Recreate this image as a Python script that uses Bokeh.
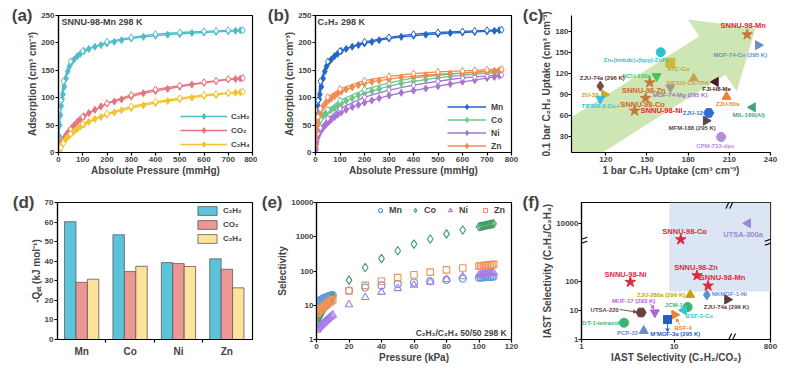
import math
from bokeh.plotting import figure
from bokeh.layouts import row, column
from bokeh.models import (Range1d, FixedTicker, Legend, LegendItem, Label, LinearScale,
                          LinearAxis, Arrow, VeeHead)
from bokeh.core.properties import value
from bokeh.embed import file_html
from bokeh.resources import INLINE

FONT = "Liberation Sans"

# ---------------- data (a) SNNU-98-Mn isotherms ----------------
A_P_ADS = [0.5, 1.5, 3, 5, 8, 11, 15, 18, 24, 31, 38, 45, 55, 65, 78, 90, 105, 125, 150, 175,
           200, 230, 260, 300, 350, 400, 450, 500, 550, 600, 650, 700, 730, 750]
A_P_DES = [760, 700, 650, 600, 500, 400, 300, 200, 100, 50, 20, 10]
A_C2H2_ADS = [5, 15, 30, 50, 68, 85, 97, 106, 120, 135, 148, 157, 165, 170, 176, 180, 185, 189, 193, 196,
              199, 202, 205, 208, 211, 213, 215, 216, 218, 219, 220, 221, 222, 223]
A_CO2_ADS = [1, 3, 6, 9, 13, 16, 20, 23, 27, 32, 36, 40, 45, 50, 56, 61, 66, 72, 78, 84,
             89, 93, 97, 102, 108, 112, 116, 120, 124, 127, 130, 133, 134, 135]
A_C2H4_ADS = [1, 2, 4, 6, 9, 12, 15, 17, 21, 25, 28, 31, 35, 39, 43, 47, 51, 56, 61, 65,
              69, 73, 77, 81, 86, 90, 94, 97, 100, 103, 105, 108, 109, 110]
A_C2H2_DES = [223, 223, 222, 221, 219, 216, 210, 202, 185, 166, 130, 95]
A_CO2_DES = [136, 134, 131, 128, 122, 115, 105, 90, 65, 42, 22, 12]
A_C2H4_DES = [111, 109, 107, 105, 99, 93, 84, 71, 52, 34, 17, 9]
A_GASES = ["C₂H₂", "CO₂", "C₂H₄"]
A_XTICKS = [0, 100, 200, 300, 400, 500, 600, 700, 800]
A_YTICKS = [0, 50, 100, 150, 200, 250]

# ---------------- data (b) C2H2 isotherms of the four metals ----------------
B_METALS = ["Mn", "Co", "Ni", "Zn"]
B_MN_ADS = [5, 15, 30, 50, 68, 85, 97, 106, 120, 135, 148, 157, 165, 170, 176, 180, 185, 189, 193, 196,
            199, 202, 205, 208, 211, 213, 215, 216, 218, 219, 220, 221, 222, 223]
B_CO_ADS = [8, 18, 28, 36, 44, 50, 55, 58, 63, 67, 70, 73, 76, 78, 81, 85, 89, 94, 99, 104,
            108, 112, 116, 121, 126, 130, 133, 136, 139, 141, 143, 145, 146, 147]
B_NI_ADS = [4, 9, 15, 20, 26, 30, 34, 37, 41, 45, 49, 52, 56, 60, 65, 69, 73, 78, 83, 87,
            91, 95, 99, 104, 109, 113, 117, 121, 125, 129, 132, 136, 138, 140]
B_ZN_ADS = [12, 25, 38, 48, 57, 63, 69, 73, 79, 84, 88, 92, 96, 99, 103, 107, 111, 115, 119, 123,
            126, 129, 131, 134, 137, 139, 141, 143, 144, 145, 146, 148, 149, 150]
B_MN_DES = [224, 223, 222, 221, 219, 216, 210, 202, 185, 166, 130, 95]
B_CO_DES = [150, 148, 147, 145, 141, 136, 127, 115, 95, 78, 60, 48]
B_NI_DES = [142, 140, 138, 136, 130, 123, 114, 101, 80, 62, 45, 35]
B_ZN_DES = [152, 151, 150, 149, 147, 144, 139, 131, 116, 101, 80, 65]

# ---------------- data (c) uptake comparison ----------------
C_NAMES = ["SNNU-98-Mn", "MOF-74-Co (295 K)", "Zn₂(tmbdc)₂(bpy)-ZnF₂", "ATC-Cu", "NCU-100a",
           "SIFSIX-Cu-TPA", "FJI-H8-Me", "ZJU-74a (296 K)", "SNNU-98-Zn", "MOF-74-Mg (295 K)",
           "ZU-33", "TIFSIX-2-Cu-i", "ZJU-50a", "SNNU-98-Co", "SNNU-98-Ni", "ZJU-12",
           "MIL-160(Al)", "MFM-188 (295 K)", "CPM-733-dps"]
C_UPTAKE_1BAR = [223, 231, 160, 167, 157, 184, 200, 116, 152, 167, 119, 116, 208, 149, 141, 195, 227, 193, 204]
C_UPTAKE_01BAR = [175, 160, 150, 135, 116, 113, 108, 102, 107, 100, 90, 84, 87, 85, 67, 64, 72, 53, 30]
C_XTICKS = [120, 150, 180, 210, 240]
C_YTICKS = [30, 60, 90, 120, 150, 180]

# ---------------- data (d) Qst ----------------
D_METALS = ["Mn", "Co", "Ni", "Zn"]
D_C2H2 = [60.2, 53.5, 39.3, 41.2]
D_CO2 = [29.2, 34.7, 38.8, 35.9]
D_C2H4 = [30.8, 37.4, 37.3, 26.4]
D_YTICKS = [0, 10, 20, 30, 40, 50, 60, 70]

# ---------------- data (e) IAST selectivity vs pressure ----------------
E_P = [0.3, 0.8, 1.3, 1.9, 2.5, 3.1, 3.8, 4.5, 5.2, 6.0, 6.8, 7.6, 8.4, 9.2, 10.0,
       20, 30, 40, 50, 60, 70, 80, 90,
       100, 101, 102, 103, 104, 105, 106, 107, 108, 109]
E_MN = [12.0, 12.6, 13.1, 13.7, 14.2, 14.7, 15.3, 15.9, 16.4, 17.0, 17.6, 18.2, 18.8, 19.4, 20.0,
        27, 33, 38, 42, 46, 50, 55, 60,
        64, 64.5, 65, 65.5, 66, 66.5, 67, 67.5, 68, 68.5]
E_CO = [3.2, 3.6, 4.1, 4.7, 5.3, 6.0, 6.8, 7.7, 8.6, 9.7, 11.0, 12.4, 14.0, 15.8, 17.5,
        54, 126, 230, 390, 610, 860, 1210, 1580,
        1950, 2000, 2050, 2100, 2150, 2200, 2250, 2300, 2350, 2400]
E_NI = [1.9, 2.05, 2.2, 2.35, 2.5, 2.7, 2.9, 3.1, 3.35, 3.6, 3.9, 4.2, 4.5, 4.85, 5.2,
        10.5, 17, 24, 31, 39, 48, 57, 69,
        76, 77.5, 79, 80.5, 82, 83.5, 85, 86.5, 88, 90]
E_ZN = [5.8, 6.2, 6.6, 7.0, 7.5, 8.0, 8.5, 9.1, 9.7, 10.4, 11.1, 11.9, 12.7, 13.6, 14.6,
        26, 38, 50, 64, 78, 93, 108, 122,
        138, 140, 142, 144, 146, 148, 150, 152, 154, 156]
E_XTICKS = [0, 20, 40, 60, 80, 100, 120]
E_YTICKS = [1, 10, 100, 1000, 10000]

# ---------------- data (f) IAST selectivity comparison ----------------
F_NAMES = ["UTSA-300a", "SNNU-98-Co", "SNNU-98-Zn", "SNNU-98-Mn", "SNNU-98-Ni", "NKMOF-1-Ni",
           "ZJU-280a (296 K)", "ZJU-74a (296 K)", "MUF-17 (293 K)", "UTSA-220", "JCM-1",
           "BSF-3-Co", "BSF-4", "M'MOF-3a (295 K)", "ZrT-1-tetrazol", "PCP-33"]
F_SEL_CO2 = [743, 11.8, 17.7, 23.3, 3.37, 22.6, 14.9, 37.6, 6.2, 4.4, 14.0, 12.7, 10.1, 8.5, 2.88, 4.7]
F_SEL_C2H4 = [10500, 2870, 163, 72, 97, 35, 35, 24, 8.6, 8.6, 13.3, 10.3, 7.2, 4.9, 3.8, 2.0]
F_XTICKS = [1, 10]
F_XTICK_END = "800"
F_YTICKS = [1, 10, 100, 10000]

# ---------------- helpers ----------------
def mkfig(w, h, l, r, t, b, **kw):
    p = figure(width=w, height=h, output_backend="svg", toolbar_location=None,
               min_border_left=l, min_border_right=r, min_border_top=t, min_border_bottom=b, **kw)
    p.xgrid.visible = False
    p.ygrid.visible = False
    p.outline_line_color = "black"
    p.outline_line_width = 1.2
    p.background_fill_color = "white"
    p.border_fill_color = "white"
    for ax in p.axis:
        ax.axis_line_width = 1.2
        ax.major_tick_line_width = 1.2
        ax.major_tick_out = 3
        ax.major_tick_in = 0
        ax.minor_tick_line_color = None
        ax.major_label_text_font = FONT
        ax.major_label_text_font_style = "bold"
        ax.major_label_text_font_size = "8px"
        ax.axis_label_text_font = FONT
        ax.axis_label_text_font_style = "bold"
        ax.axis_label_text_font_size = "10px"
        ax.major_label_standoff = 1
        ax.axis_label_standoff = 0
    return p


def panel_letter(p, text, ytop, shift):
    # panel letter drawn as the only tick label of an extra, line-less left axis
    ax = LinearAxis(ticker=FixedTicker(ticks=[ytop]), major_label_overrides={ytop: text})
    ax.axis_line_color = None
    ax.major_tick_line_color = None
    ax.minor_tick_line_color = None
    ax.major_tick_out = 0
    ax.major_tick_in = 0
    ax.minor_tick_out = 0
    ax.major_label_standoff = -shift
    ax.major_label_text_font = FONT
    ax.major_label_text_font_style = "bold"
    ax.major_label_text_font_size = "17px"
    p.add_layout(ax, "left")


def style_legend(leg, size="8px"):
    leg.label_text_font = FONT
    leg.label_text_font_style = "bold"
    leg.label_text_font_size = size
    leg.border_line_color = None
    leg.background_fill_alpha = 0
    leg.padding = 0
    leg.spacing = 0
    leg.margin = 0


def ticks(ax, tk, labels=None):
    ax.ticker = FixedTicker(ticks=tk)
    if labels is not None:
        ax.major_label_overrides = {t: s for t, s in zip(tk, labels)}

# ============ (a) ============
WA, HA, LA, RA, TA, BA = 257, 182, 58, 5, 15, 30
pa = mkfig(WA, HA, LA, RA, TA, BA, x_range=(0, 800), y_range=(0, 250))
ticks(pa.xaxis[0], A_XTICKS)
ticks(pa.yaxis[0], A_YTICKS)
pa.xaxis.axis_label = "Absolute Pressure (mmHg)"
pa.yaxis.axis_label = "Adsorption (cm³ cm⁻³)"
A_COLORS = ["#52bccb", "#e9737c", "#f4c331"]
items = []
for name, col, ads, des in zip(A_GASES, A_COLORS, [A_C2H2_ADS, A_CO2_ADS, A_C2H4_ADS],
                               [A_C2H2_DES, A_CO2_DES, A_C2H4_DES]):
    l1 = pa.line(A_P_ADS, ads, line_color=col, line_width=1.3)
    s1 = pa.scatter(A_P_ADS, ads, marker="diamond", size=7, fill_color=col, line_color=col)
    pa.line(A_P_DES, des, line_color=col, line_width=1.3)
    pa.scatter(A_P_DES, des, marker="diamond", size=7, fill_color="white", line_color=col)
    items.append(LegendItem(label=name, renderers=[l1, s1]))
leg = Legend(items=items, location="bottom_right")
style_legend(leg)
leg.margin = 1
leg.glyph_width = 47
leg.glyph_height = 14
leg.label_height = 14
leg.label_standoff = 4
pa.add_layout(leg)
pa.add_layout(Label(x=12, y=238, text="SNNU-98-Mn  298 K", text_font=FONT, text_font_style="bold",
                    text_font_size="9px", text_baseline="middle"))
panel_letter(pa, "(a)", 249.5, 8)

# ============ (b) ============
WB, HB, LB, RB, TB, BB = 262, 182, 58, 8, 14, 29
pb = mkfig(WB, HB, LB, RB, TB, BB, x_range=(0, 800), y_range=(0, 250))
ticks(pb.xaxis[0], A_XTICKS)
ticks(pb.yaxis[0], A_YTICKS)
pb.xaxis.axis_label = "Absolute Pressure (mmHg)"
pb.yaxis.axis_label = "Adsorption (cm³ cm⁻³)"
B_COLORS = ["#2566c8", "#6cc68c", "#a874d6", "#f38a4f"]
items = []
for name, col, ads, des in zip(B_METALS, B_COLORS, [B_MN_ADS, B_CO_ADS, B_NI_ADS, B_ZN_ADS],
                               [B_MN_DES, B_CO_DES, B_NI_DES, B_ZN_DES]):
    l1 = pb.line(A_P_ADS, ads, line_color=col, line_width=1.3)
    s1 = pb.scatter(A_P_ADS, ads, marker="diamond", size=7, fill_color=col, line_color=col)
    pb.line(A_P_DES, des, line_color=col, line_width=1.3)
    pb.scatter(A_P_DES, des, marker="diamond", size=7, fill_color="white", line_color=col)
    items.append(LegendItem(label=name, renderers=[l1, s1]))
leg = Legend(items=items, location="bottom_right")
style_legend(leg, "8.5px")
leg.glyph_width = 39
leg.glyph_height = 13
leg.label_height = 13
leg.label_standoff = 5
pb.add_layout(leg)
pb.add_layout(Label(x=8, y=238, text="C₂H₂ 298 K", text_font=FONT, text_font_style="bold",
                    text_font_size="9px", text_baseline="middle"))
panel_letter(pb, "(b)", 249.5, 8)

# ============ (c) ============
WC, HC, LC, RC, TC, BC = 265, 182, 50, 14, 12, 27
CX0, CX1, CY0, CY1 = 95, 240, 8, 202
pc = mkfig(WC, HC, LC, RC, TC, BC, x_range=(CX0, CX1), y_range=(CY0, CY1))
pc.outline_line_color = None
ticks(pc.xaxis[0], C_XTICKS)
ticks(pc.yaxis[0], C_YTICKS)
pc.yaxis[0].major_label_standoff = 0
pc.xaxis.axis_label = "1 bar C₂H₂ Uptake (cm³ cm⁻³)"
pc.yaxis.axis_label = "0.1 bar C₂H₂ Uptake (cm³ cm⁻³)"
FWC, FHC = WC - LC - RC, HC - TC - BC
KX, KY = FWC / (CX1 - CX0), FHC / (CY1 - CY0)

# decorative arrow (pixel geometry)
ARROW_TAIL, ARROW_TIP = (82, 3), (229, 184)
SHAFT, HEAD_W, HEAD_L = 24, 45, 52
X0, Y0 = ARROW_TAIL[0] * KX, ARROW_TAIL[1] * KY
X1, Y1 = ARROW_TIP[0] * KX, ARROW_TIP[1] * KY
L = math.hypot(X1 - X0, Y1 - Y0)
ux, uy = (X1 - X0) / L, (Y1 - Y0) / L
nx, ny = -uy, ux
bx, by = X1 - ux * HEAD_L, Y1 - uy * HEAD_L
pts = [(X0 + nx * SHAFT, Y0 + ny * SHAFT), (bx + nx * SHAFT, by + ny * SHAFT),
       (bx + nx * HEAD_W, by + ny * HEAD_W), (X1, Y1), (bx - nx * HEAD_W, by - ny * HEAD_W),
       (bx - nx * SHAFT, by - ny * SHAFT), (X0 - nx * SHAFT, Y0 - ny * SHAFT)]
pc.patch([q[0] / KX for q in pts], [q[1] / KY for q in pts], fill_color="#c4e2a6",
         fill_alpha=0.85, line_color=None)

HP = math.pi / 2
C_MARKERS = ["star", "triangle", "circle", "square", "inverted_triangle", "triangle", "triangle",
             "diamond", "star", "inverted_triangle", "triangle", "inverted_triangle", "triangle",
             "star", "star", "hex", "triangle", "triangle", "circle"]
C_ANGLES = [0, -HP, 0, 0, 0, 0, HP, 0, 0, 0, -HP, 0, 0, 0, 0, 0, HP, -HP, 0]
C_COLORS = ["#c7773a", "#6a8fc8", "#2cc3cf", "#c9bb3f", "#46bf62", "#c9a052", "#4a1c1c",
            "#7b4a42", "#c7773a", "#9a9a9a", "#d4a520", "#2fc0e8", "#f07e30", "#c7773a",
            "#c7773a", "#2f6fd8", "#3aa87a", "#5a4848", "#b58ce0"]
C_LCOLORS = ["#e3262e", "#6a8fc8", "#2cc3cf", "#b5a52e", "#46bf62", "#c9a052", "#4a1c1c",
             "#5b3530", "#d0642a", "#9a70c0", "#c99a10", "#2fc0e8", "#f07e30", "#d0642a",
             "#e3262e", "#2f6fd8", "#3aa87a", "#5a4848", "#b58ce0"]
C_SIZES = [11, 9, 9, 9, 9, 9, 9, 10, 11, 9, 9, 9, 9, 11, 11, 10, 9, 9, 9]
C_LOFF = [(-4, -9, "center"), (-18, 10, "center"), (-25, 8, "center"), (8, 6, "center"),
          (-6, 0, "right"), (-6, 5, "center"), (1, 7, "center"), (2, -8, "center"),
          (-6, 8, "center"), (10, 8, "center"), (-6, 0, "right"), (0, 8, "center"),
          (1, 8, "center"), (-3, 7, "center"), (6, 0, "left"), (-6, 0, "right"),
          (-4, 8, "center"), (-14, 8, "center"), (-6, 9, "center")]
for i, nm in enumerate(C_NAMES):
    pc.scatter([C_UPTAKE_1BAR[i]], [C_UPTAKE_01BAR[i]], marker=C_MARKERS[i], angle=C_ANGLES[i],
               size=C_SIZES[i], fill_color=C_COLORS[i], line_color=C_COLORS[i])
for i, nm in enumerate(C_NAMES):
    dx, dy, al = C_LOFF[i]
    big = nm.startswith("SNNU")
    pc.text([C_UPTAKE_1BAR[i] + dx / KX], [C_UPTAKE_01BAR[i] - dy / KY], text=[nm],
            text_font=value(FONT), text_font_style="bold",
            text_font_size=value("7.5px" if big else "6px"), text_color=C_LCOLORS[i],
            text_align=al, text_baseline="middle")
panel_letter(pc, "(c)", 201.5, 5)

# ============ (d) ============
WD, HD, LD, RD, TD, BD = 257, 185, 57, 5, 20, 28
pd = mkfig(WD, HD, LD, RD, TD, BD, x_range=(0, 4.03), y_range=(0, 70))
centers = [i + 0.5 for i in range(len(D_METALS))]
pd.xaxis[0].ticker = FixedTicker(ticks=centers, minor_ticks=[1, 2, 3])
pd.xaxis[0].major_label_overrides = {c: m for c, m in zip(centers, D_METALS)}
pd.xaxis[0].major_tick_line_color = None
pd.xaxis[0].minor_tick_line_color = "black"
pd.xaxis[0].minor_tick_line_width = 1.2
pd.xaxis[0].minor_tick_out = 3
pd.xaxis[0].minor_tick_in = 0
pd.xaxis[0].major_label_text_font_size = "10px"
pd.xaxis[0].major_label_standoff = 3
ticks(pd.yaxis[0], D_YTICKS)
pd.yaxis.axis_label = "-Qₛₜ (kJ mol⁻¹)"
BW = 0.236
D_COLORS = ["#5cc4da", "#ec9794", "#fde29a"]
items = []
for k, (name, col, vals) in enumerate(zip(A_GASES, D_COLORS, [D_C2H2, D_CO2, D_C2H4])):
    r = pd.vbar(x=[c + (k - 1) * BW for c in centers], top=vals, width=BW, bottom=0,
                fill_color=col, line_color="#5a5a5a", line_width=0.8)
    items.append(LegendItem(label=name, renderers=[r]))
FHD = HD - TD - BD
leg = Legend(items=items, location=(138, FHD - 42))
style_legend(leg)
leg.glyph_width = 24
leg.glyph_height = 11
leg.label_height = 12
leg.spacing = 2
leg.label_standoff = 4
pd.add_layout(leg)
panel_letter(pd, "(d)", 69.8, 7)

# ============ (e) ============
WE, HE, LE, RE, TE, BE = 262, 185, 59, 8, 20, 28
pe = mkfig(WE, HE, LE, RE, TE, BE, x_range=(0, 120), y_range=(1, 10000), y_axis_type="log")
ticks(pe.xaxis[0], E_XTICKS)
ticks(pe.yaxis[0], E_YTICKS, [str(t) for t in E_YTICKS])
pe.yaxis[0].major_label_standoff = 0
pe.xaxis.axis_label = "Pressure (kPa)"
pe.yaxis.axis_label = "Selectivity"
E_COLORS = ["#5c9cd6", "#3d9c5f", "#a77be8", "#f0925a"]
E_MARK = ["circle", "diamond", "triangle", "square"]
E_SIZE = [7, 8.5, 7.5, 6.5]
items = []
for name, col, mk, sz, vals in zip(B_METALS, E_COLORS, E_MARK, E_SIZE, [E_MN, E_CO, E_NI, E_ZN]):
    r = pe.scatter(E_P, vals, marker=mk, size=sz, fill_color=None, line_color=col, line_width=1.1)
    items.append(LegendItem(label=name, renderers=[r]))
FHE = HE - TE - BE
leg = Legend(items=items, location=(59, FHE - 14), orientation="horizontal")
style_legend(leg, "9px")
leg.glyph_width = 10
leg.glyph_height = 12
leg.label_height = 12
leg.label_width = 13
leg.label_standoff = 4
leg.spacing = 8
pe.add_layout(leg)
pe.add_layout(Label(x=117, y=1.55, text="C₂H₂/C₂H₄ 50/50 298 K", text_font=FONT,
                    text_font_style="bold", text_font_size="8.5px", text_align="right",
                    text_baseline="middle"))
panel_letter(pe, "(e)", 9980, 8)

# ============ (f) ============
WF, HF, LF, RF, TF, BF = 265, 185, 55, 14, 19, 28
FX1, FY1 = 110, 55000
BRK0, BRK1 = 324, 800
pf = mkfig(WF, HF, LF, RF, TF, BF, x_axis_type="log", y_axis_type="log",
           x_range=Range1d(1, FX1), y_range=Range1d(1, FY1))
pf.extra_x_ranges = {"brk": Range1d(BRK0, BRK1)}
pf.extra_x_scales = {"brk": LinearScale()}
ticks(pf.xaxis[0], F_XTICKS + [FX1], [str(t) for t in F_XTICKS] + [F_XTICK_END])
ticks(pf.yaxis[0], F_YTICKS, [str(t) for t in F_YTICKS])
pf.yaxis[0].major_label_standoff = 0
pf.xaxis.axis_label = "IAST Selectivity (C₂H₂/CO₂)"
pf.yaxis.axis_label = "IAST Selectivity (C₂H₂/C₂H₄)"
FWF, FHF = WF - LF - RF, HF - TF - BF
pf.quad(left=[8.9], right=[FX1], bottom=[46], top=[FY1], fill_color="#dbe5f3", line_color=None)

def f_xoff(x, dx, brk=False):
    if brk:
        return x + dx * (BRK1 - BRK0) / FWF
    return x * 10 ** (dx * math.log10(FX1) / FWF)

def f_yoff(y, dy):
    return y * 10 ** (-dy * math.log10(FY1) / FHF)

F_MARKERS = ["triangle", "star", "star", "star", "star", "diamond", "triangle", "triangle",
             "inverted_triangle", "hex", "circle", "triangle", "triangle", "square", "circle",
             "triangle"]
F_ANGLES = [HP, 0, 0, 0, 0, 0, 0, -HP, 0, 0, 0, HP, -HP, 0, 0, 0]
F_COLORS = ["#9d89d4", "#e0283a", "#e0283a", "#e0283a", "#e0283a", "#5f8fcf", "#c9a400",
            "#5b3b3b", "#b25fe0", "#6b3f3f", "#3cb371", "#36c6d3", "#f0832a", "#1f5fbf",
            "#3cb371", "#6a8ad0"]
F_SIZES = [9, 11, 11, 11, 11, 10, 9, 9, 9, 10, 9, 9, 9, 8, 9, 9]
F_FONT = ["7.5px", "7.5px", "7.5px", "7.5px", "7.5px"] + ["6px"] * 11
F_LOFF = [(-5, 11, "center"), (4, -8, "center"), (-1, -8, "center"), (15, -8, "center"),
          (-5, -8, "center"), (5, -1, "left"), (-5, 0, "right"), (-1, 7, "center"),
          (-22, -12, "center"), (-23, -3, "right"), (-5, -2, "right"), (2, 6, "left"),
          (0, 13, "left"), (8, 15, "center"), (-5, 0, "right"), (-6, 2, "right")]
for i, nm in enumerate(F_NAMES):
    brk = F_SEL_CO2[i] > FX1
    kw = {"x_range_name": "brk"} if brk else {}
    pf.scatter([F_SEL_CO2[i]], [F_SEL_C2H4[i]], marker=F_MARKERS[i], angle=F_ANGLES[i],
               size=F_SIZES[i], fill_color=F_COLORS[i], line_color=F_COLORS[i], **kw)
    dx, dy, al = F_LOFF[i]
    pf.text([f_xoff(F_SEL_CO2[i], dx, brk)], [f_yoff(F_SEL_C2H4[i], dy)], text=[nm],
            text_font=value(FONT), text_font_style="bold",
            text_font_size=value(F_FONT[i]), text_color=F_COLORS[i],
            text_align=al, text_baseline="middle", **kw)

# small pointer arrows (pixel offsets from the markers)
F_POINTERS = [(9, (-22, -3), (-5, -0.5)), (8, (-5, -9), (-1, -4)),
              (12, (5, 10), (2, 4)), (13, (0, 4), (0, 12))]
for i, (sx, sy), (ex, ey) in F_POINTERS:
    pf.add_layout(Arrow(end=VeeHead(size=3, line_color=F_COLORS[i], fill_color=F_COLORS[i]),
                        x_start=f_xoff(F_SEL_CO2[i], sx), y_start=f_yoff(F_SEL_C2H4[i], sy),
                        x_end=f_xoff(F_SEL_CO2[i], ex), y_end=f_yoff(F_SEL_C2H4[i], ey),
                        line_color=F_COLORS[i], line_width=0.9))

# axis break marks (short slanted strokes crossing the frame edges)
BREAK_X, BREAK_Y = 40.9, 2500
bx0, bx1, by0, by1 = [], [], [], []
for yb in (1, FY1):
    for off in (-2, 2):
        bx0.append(f_xoff(BREAK_X, off - 3)); by0.append(f_yoff(yb, 6))
        bx1.append(f_xoff(BREAK_X, off + 3)); by1.append(f_yoff(yb, -6))
for xb in (1, FX1):
    for off in (-2, 2):
        bx0.append(f_xoff(xb, -6)); by0.append(f_yoff(BREAK_Y, off + 2))
        bx1.append(f_xoff(xb, 6)); by1.append(f_yoff(BREAK_Y, off - 2))
pf.segment(x0=bx0, y0=by0, x1=bx1, y1=by1, line_color="black", line_width=1.1)
panel_letter(pf, "(f)", 54000, 0)

layout = column(row(pa, pb, pc), row(pd, pe, pf))
open("out.html", "w").write(file_html(layout, INLINE))
